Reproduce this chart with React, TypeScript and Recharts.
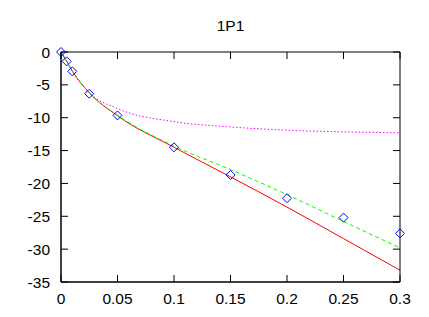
import { ComposedChart, Line, XAxis, YAxis } from 'recharts';

const xs = [0, 0.005, 0.01, 0.025, 0.05, 0.1, 0.15, 0.2, 0.25, 0.3];
const measured = [0, -1.42, -2.95, -6.35, -9.65, -14.5, -18.7, -22.25, -25.2, -27.6];
const redFit = [0, -1.4, -2.9, -6.2, -9.7, -14.5, -19.0, -23.6, -28.4, -33.2];
const greenFit = [0, -1.4, -2.9, -6.2, -9.6, -14.3, -17.9, -21.7, -25.8, -29.8];
const magentaFit = [0, -1.4, -2.9, -6.2, -8.6, -10.6, -11.4, -11.9, -12.15, -12.3];
const xTicks = [0, 0.05, 0.1, 0.15, 0.2, 0.25, 0.3];
const yTicks = [-35, -30, -25, -20, -15, -10, -5, 0];

const data = xs.map((x, i) => ({
  x,
  pts: measured[i],
  red: redFit[i],
  green: greenFit[i],
  magenta: magentaFit[i],
}));

const font = { fontFamily: '"Liberation Sans", Arial, sans-serif', fontSize: 15.5, fill: '#000' };
const blank = () => '';

const Diamond = (props: any) => {
  const { cx, cy, index } = props;
  if (cx == null || cy == null) return null;
  const r = 4.5;
  return (
    <path
      key={`d-${index}`}
      d={`M${cx},${cy - r}L${cx + r},${cy}L${cx},${cy + r}L${cx - r},${cy}Z`}
      fill="none"
      stroke="#0000ff"
      strokeWidth={1}
    />
  );
};

export default function App() {
  return (
    <div style={{ position: 'absolute', left: 0, top: 0, width: 429, height: 317, background: '#fff' }}>
      <ComposedChart
        width={429}
        height={317}
        data={data}
        margin={{ top: 52, right: 29, bottom: 0, left: 0 }}
      >
        {/* labelled axes */}
        <XAxis
          xAxisId="b"
          dataKey="x"
          type="number"
          domain={[0, 0.3]}
          ticks={xTicks}
          orientation="bottom"
          height={35}
          stroke="#000"
          tickLine={false}
          tickSize={1}
          tickMargin={10}
          tick={font}
          interval={0}
        />
        <YAxis
          yAxisId="l"
          type="number"
          domain={[-35, 0]}
          ticks={yTicks}
          orientation="left"
          width={61}
          stroke="#000"
          tickLine={false}
          tickSize={1}
          tickMargin={10}
          tick={font}
          interval={0}
        />
        {/* inward ticks on all four sides */}
        <XAxis
          xAxisId="bt"
          dataKey="x"
          type="number"
          domain={[0, 0.3]}
          ticks={xTicks}
          orientation="bottom"
          mirror
          stroke="#000"
          tickSize={7}
          tickFormatter={blank}
          interval={0}
        />
        <XAxis
          xAxisId="tt"
          dataKey="x"
          type="number"
          domain={[0, 0.3]}
          ticks={xTicks}
          orientation="top"
          mirror
          stroke="#000"
          tickSize={7}
          tickFormatter={blank}
          interval={0}
        />
        <YAxis
          yAxisId="lt"
          type="number"
          domain={[-35, 0]}
          ticks={yTicks}
          orientation="left"
          mirror
          stroke="#000"
          tickSize={7}
          tickFormatter={blank}
          interval={0}
        />
        <YAxis
          yAxisId="rt"
          type="number"
          domain={[-35, 0]}
          ticks={yTicks}
          orientation="right"
          mirror
          stroke="#000"
          tickSize={7}
          tickFormatter={blank}
          interval={0}
        />
        {/* invisible series so the tick-only axes get drawn */}
        <Line xAxisId="bt" yAxisId="lt" dataKey="pts" stroke="none" dot={false} activeDot={false} isAnimationActive={false} />
        <Line xAxisId="tt" yAxisId="rt" dataKey="pts" stroke="none" dot={false} activeDot={false} isAnimationActive={false} />
        <Line
          xAxisId="b"
          yAxisId="l"
          dataKey="magenta"
          type="monotone"
          stroke="#ff00ff"
          strokeWidth={1}
          strokeDasharray="1.5 2"
          dot={false}
          isAnimationActive={false}
        />
        <Line
          xAxisId="b"
          yAxisId="l"
          dataKey="red"
          type="monotone"
          stroke="#ff0000"
          strokeWidth={1}
          dot={false}
          isAnimationActive={false}
        />
        <Line
          xAxisId="b"
          yAxisId="l"
          dataKey="green"
          type="monotone"
          stroke="#00ff00"
          strokeWidth={1}
          strokeDasharray="4 3"
          dot={false}
          isAnimationActive={false}
        />
        <Line
          xAxisId="b"
          yAxisId="l"
          dataKey="pts"
          stroke="none"
          dot={<Diamond />}
          activeDot={false}
          isAnimationActive={false}
        />
      </ComposedChart>
      <div style={{ position: 'absolute', left: 0, top: 17, width: 461, textAlign: 'center', ...font, color: '#000' }}>1P1</div>
    </div>
  );
}
